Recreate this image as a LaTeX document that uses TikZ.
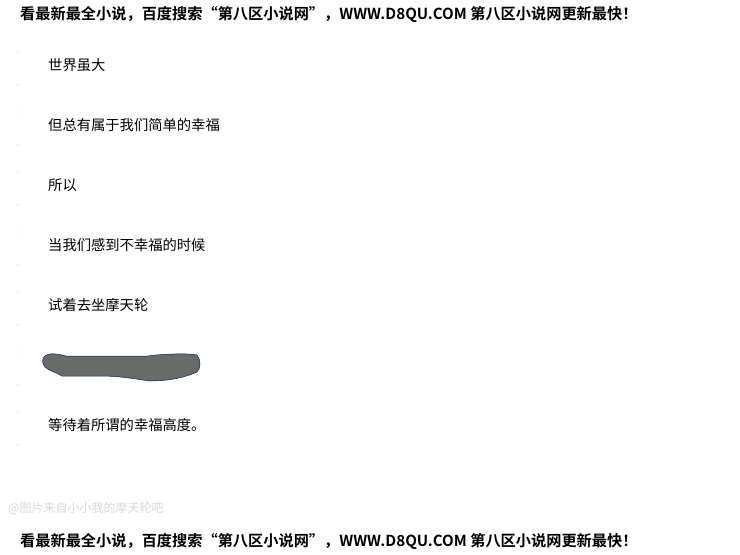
\documentclass[tikz,border=0pt]{standalone}
\usepackage{fontspec}
\newfontfamily\cjk{Noto Sans CJK SC}
\newfontfamily\cjkbold{Noto Sans CJK SC Bold}
\definecolor{blobgray}{RGB}{103,108,105}
\definecolor{blobedge}{RGB}{20,30,90}
\begin{document}
\begin{tikzpicture}[x=1pt,y=-1pt,
  headline/.style={anchor=west,inner sep=0pt,font=\cjkbold\fontsize{15.2}{15.2}\selectfont,text=black},
  bodyline/.style={anchor=west,inner sep=0pt,font=\cjk\fontsize{14.3}{14.3}\selectfont,text=black},
  faint/.style={anchor=west,inner sep=0pt,font=\cjk\fontsize{12}{12}\selectfont,text=black!15},
  speck/.style={fill=black!25}]
\useasboundingbox[fill=white] (0,0) rectangle (740,555);
\node[headline] (top) at (20,14) {看最新最全小说，百度搜索“第八区小说网”，WWW.D8QU.COM 第八区小说网更新最快！};
\node[bodyline] (l1) at (48,65) {世界虽大};
\node[bodyline] (l2) at (48,125) {但总有属于我们简单的幸福};
\node[bodyline] (l3) at (48,185) {所以};
\node[bodyline] (l4) at (48,245) {当我们感到不幸福的时候};
\node[bodyline] (l5) at (48,305) {试着去坐摩天轮};
\node[bodyline] (l7) at (48,425) {等待着所谓的幸福高度。};
\filldraw[fill=blobgray, draw=blobedge, line width=0.5pt]
  (44,357) .. controls (48,352) and (58,354) .. (66,356)
  -- (148,356) .. controls (160,354) and (190,353) .. (197,355)
  .. controls (201,360) and (201,368) .. (197,372)
  .. controls (186,377) and (170,381) .. (150,381)
  .. controls (135,379) and (120,376) .. (100,376)
  -- (62,376) .. controls (55,372) and (48,370) .. (45,367)
  .. controls (42,363) and (42,360) .. (44,357) -- cycle;
\node[faint] (wm) at (8,508) {@图片来自小小我的摩天轮吧};
\node[headline] (bottom) at (20,541) {看最新最全小说，百度搜索“第八区小说网”，WWW.D8QU.COM 第八区小说网更新最快！};
\foreach \yy in {52,85,112,145,172,205,232,265,292,325,352,385,412,445}
  \fill[speck] (18,\yy) circle (0.6pt);
\end{tikzpicture}
\end{document}
